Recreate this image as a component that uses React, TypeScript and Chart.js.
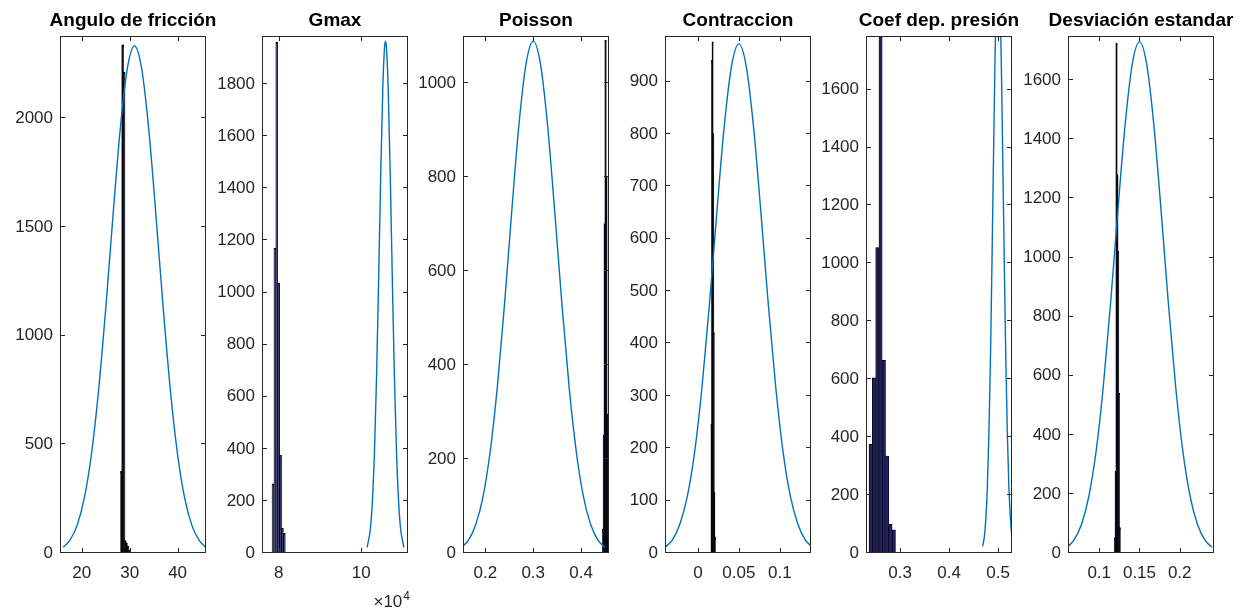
import React, { useEffect, useRef } from "react";
import { Chart, registerables } from "chart.js";

Chart.register(...registerables);

// ---------- Panel 1: Angulo de fricción ----------
const fricTitle = "Angulo de fricción";
const fricBins = [28.3, 28.55, 28.8, 29.05, 29.3, 29.55, 29.8];
const fricCounts = [375, 2335, 2210, 55, 45, 30, 12];
const fricCurveX = [16.1, 17.5, 19, 20.5, 22, 23.5, 25, 26.5, 28, 29.5, 31, 32.5, 34, 35.5, 37, 38.5, 40, 41.5, 43, 44.5, 45.9];
const fricCurveY = [26, 58, 126, 250, 452, 747, 1125, 1548, 1944, 2228, 2332, 2228, 1944, 1548, 1125, 747, 452, 250, 126, 58, 26];
const fricXTicks = [20, 30, 40];
const fricYTicks = [0, 500, 1000, 1500, 2000];
const fricXRange = [15.45, 45.93];
const fricYMax = 2378;

// ---------- Panel 2: Gmax ----------
const gmaxTitle = "Gmax";
const gmaxBins = [78630, 79090, 79540, 80000, 80460, 80910, 81370];
const gmaxCounts = [265, 1170, 1960, 1035, 375, 95, 75];
const gmaxCurveX = [101450, 102250, 102750, 103250, 103750, 104250, 104750, 105250, 105650, 105900, 106150, 106550, 107050, 107550, 108050, 108550, 109050, 109550, 110350];
const gmaxCurveY = [22, 95, 206, 398, 687, 1058, 1455, 1785, 1937, 1965, 1937, 1785, 1455, 1058, 687, 398, 206, 95, 22];
const gmaxXTicks = [80000, 100000];
const gmaxYTicks = [0, 200, 400, 600, 800, 1000, 1200, 1400, 1600, 1800];
const gmaxXRange = [75960, 111360];
const gmaxYMax = 1985;

// ---------- Panel 3: Poisson ----------
const poisTitle = "Poisson";
const poisBins = [0.4459, 0.4477, 0.4495, 0.4513, 0.4531, 0.4549, 0.4567];
const poisCounts = [50, 250, 700, 1090, 800, 295, 40];
const poisCurveX = [0.15, 0.165, 0.18, 0.195, 0.21, 0.225, 0.24, 0.255, 0.27, 0.285, 0.3, 0.315, 0.33, 0.345, 0.36, 0.375, 0.39, 0.405, 0.42, 0.435, 0.45];
const poisCurveY = [12, 28, 61, 120, 216, 354, 530, 726, 910, 1041, 1089, 1041, 910, 726, 530, 354, 216, 120, 61, 28, 12];
const poisXTicks = [0.2, 0.3, 0.4];
const poisYTicks = [0, 200, 400, 600, 800, 1000];
const poisXRange = [0.1531, 0.4585];
const poisYMax = 1100;

// ---------- Panel 4: Contraccion ----------
const contTitle = "Contraccion";
const contBins = [0.0166, 0.0173, 0.018, 0.0187, 0.0194, 0.0201, 0.0208];
const contCounts = [245, 940, 975, 800, 420, 115, 30];
const contCurveX = [-0.04, -0.031, -0.022, -0.013, -0.004, 0.005, 0.014, 0.023, 0.032, 0.041, 0.05, 0.059, 0.068, 0.077, 0.086, 0.095, 0.104, 0.113, 0.122, 0.131, 0.14];
const contCurveY = [11, 25, 55, 107, 192, 316, 473, 648, 812, 929, 972, 929, 812, 648, 473, 316, 192, 107, 55, 25, 11];
const contXTicks = [0, 0.05, 0.1];
const contYTicks = [0, 100, 200, 300, 400, 500, 600, 700, 800, 900];
const contXRange = [-0.0401, 0.138];
const contYMax = 987;

// ---------- Panel 5: Coef dep. presión ----------
const coefTitle = "Coef dep. presión";
const coefBins = [0.24, 0.2467, 0.2535, 0.2602, 0.267, 0.2738, 0.2805, 0.2873];
const coefCounts = [375, 605, 1055, 2050, 665, 335, 100, 80];
const coefCurveX = [0.4685, 0.4717, 0.4748, 0.478, 0.4811, 0.4843, 0.4874, 0.4906, 0.4937, 0.4969, 0.5, 0.5031, 0.5063, 0.5094, 0.5126, 0.5157, 0.5189, 0.522, 0.5252, 0.5283, 0.5315];
const coefCurveY = [23, 54, 115, 226, 406, 666, 998, 1367, 1712, 1960, 2050, 1960, 1712, 1367, 998, 666, 406, 226, 115, 54, 23];
const coefXTicks = [0.3, 0.4, 0.5];
const coefYTicks = [0, 200, 400, 600, 800, 1000, 1200, 1400, 1600];
const coefXRange = [0.2305, 0.5283];
const coefYMax = 1785;

// ---------- Panel 6: Desviación estandar ----------
const desvTitle = "Desviación estandar";
const desvBins = [0.1195, 0.1205, 0.1215, 0.1225, 0.1235, 0.1245, 0.1255];
const desvCounts = [50, 275, 1725, 1280, 1020, 540, 85];
const desvCurveX = [0.06, 0.069, 0.078, 0.087, 0.096, 0.105, 0.114, 0.123, 0.132, 0.141, 0.15, 0.159, 0.168, 0.177, 0.186, 0.195, 0.204, 0.213, 0.222, 0.231, 0.24];
const desvCurveY = [19, 45, 97, 191, 342, 562, 842, 1154, 1445, 1654, 1730, 1654, 1445, 1154, 842, 562, 342, 191, 97, 45, 19];
const desvXTicks = [0.1, 0.15, 0.2];
const desvYTicks = [0, 200, 400, 600, 800, 1000, 1200, 1400, 1600];
const desvXRange = [0.0612, 0.2426];
const desvYMax = 1750;

type PanelSpec = {
  title: string;
  bins: number[];
  counts: number[];
  curveX: number[];
  curveY: number[];
  xTicks: number[];
  yTicks: number[];
  xRange: number[];
  yMax: number;
  xScaleFactor?: number;
  barEdge: number;
  inflate: number;
  barFill: string;
};

const NAVY = "#22215c";
const DARK = "#0a0a14";

const PANELS: PanelSpec[] = [
  { title: fricTitle, bins: fricBins, counts: fricCounts, curveX: fricCurveX, curveY: fricCurveY, xTicks: fricXTicks, yTicks: fricYTicks, xRange: fricXRange, yMax: fricYMax, barEdge: 1.2, inflate: 0.8, barFill: DARK },
  { title: gmaxTitle, bins: gmaxBins, counts: gmaxCounts, curveX: gmaxCurveX, curveY: gmaxCurveY, xTicks: gmaxXTicks, yTicks: gmaxYTicks, xRange: gmaxXRange, yMax: gmaxYMax, xScaleFactor: 10000, barEdge: 0.9, inflate: 0.4, barFill: NAVY },
  { title: poisTitle, bins: poisBins, counts: poisCounts, curveX: poisCurveX, curveY: poisCurveY, xTicks: poisXTicks, yTicks: poisYTicks, xRange: poisXRange, yMax: poisYMax, barEdge: 1.2, inflate: 0.7, barFill: DARK },
  { title: contTitle, bins: contBins, counts: contCounts, curveX: contCurveX, curveY: contCurveY, xTicks: contXTicks, yTicks: contYTicks, xRange: contXRange, yMax: contYMax, barEdge: 1.2, inflate: 0.7, barFill: DARK },
  { title: coefTitle, bins: coefBins, counts: coefCounts, curveX: coefCurveX, curveY: coefCurveY, xTicks: coefXTicks, yTicks: coefYTicks, xRange: coefXRange, yMax: coefYMax, barEdge: 0.7, inflate: 0.3, barFill: NAVY },
  { title: desvTitle, bins: desvBins, counts: desvCounts, curveX: desvCurveX, curveY: desvCurveY, xTicks: desvXTicks, yTicks: desvYTicks, xRange: desvXRange, yMax: desvYMax, barEdge: 1.2, inflate: 0.7, barFill: DARK },
];

// layout (pixels)
const PANEL_LEFTS = [60, 262, 463, 665, 866, 1068];
const AXES_W = 146;
const Y_AREA = 52;
const RIGHT_PAD = 20;
const TOP = 36;
const X_AREA = 58;
const H = 611;
const FONT = '"Liberation Sans", Arial, Helvetica, sans-serif';
const AXIS_COLOR = "#262626";

function framePlugin(spec: PanelSpec) {
  return {
    id: "matlabFrame",
    afterDatasetsDraw(chart: any) {
      const { ctx, chartArea } = chart;
      const { left, right, top, bottom } = chartArea;
      const xs = chart.scales.x;
      const ys = chart.scales.y;
      ctx.save();
      ctx.strokeStyle = AXIS_COLOR;
      ctx.lineWidth = 1;
      ctx.strokeRect(left + 0.5, top + 0.5, right - left - 1, bottom - top - 1);
      const tl = 5;
      ctx.beginPath();
      spec.xTicks.forEach((v) => {
        const p = Math.round(xs.getPixelForValue(v)) + 0.5;
        ctx.moveTo(p, bottom);
        ctx.lineTo(p, bottom - tl);
        ctx.moveTo(p, top);
        ctx.lineTo(p, top + tl);
      });
      spec.yTicks.forEach((v) => {
        const p = Math.round(ys.getPixelForValue(v)) - 0.5;
        ctx.moveTo(left, p);
        ctx.lineTo(left + tl, p);
        ctx.moveTo(right, p);
        ctx.lineTo(right - tl, p);
      });
      ctx.stroke();
      // title
      ctx.fillStyle = "#000";
      ctx.font = `bold 19px ${FONT}`;
      ctx.textAlign = "center";
      ctx.textBaseline = "middle";
      ctx.fillText(spec.title, (left + right) / 2, 21);
      // exponent label
      if (spec.xScaleFactor) {
        ctx.fillStyle = AXIS_COLOR;
        ctx.textBaseline = "alphabetic";
        ctx.textAlign = "right";
        ctx.font = `12px ${FONT}`;
        const supW = ctx.measureText("4").width;
        ctx.fillText("4", right + 2, 600);
        ctx.font = `17px ${FONT}`;
        ctx.fillText("\u00d710", right + 2 - supW - 1, 607);
      }
      ctx.restore();
    },
  };
}

function Panel({ spec, left }: { spec: PanelSpec; left: number }) {
  const ref = useRef<HTMLCanvasElement | null>(null);
  useEffect(() => {
    if (!ref.current) return;
    const fmt = (v: number) => {
      const val = spec.xScaleFactor ? v / spec.xScaleFactor : v;
      return String(Math.round(val * 1e6) / 1e6);
    };
    const chart = new Chart(ref.current, {
      type: "bar",
      data: {
        datasets: [
          {
            type: "line",
            data: spec.curveX.map((x, i) => ({ x, y: spec.curveY[i] })),
            borderColor: "#0072BD",
            borderWidth: 1.4,
            pointRadius: 0,
            fill: false,
            cubicInterpolationMode: "monotone",
            clip: 0,
            order: 0,
          } as any,
          {
            type: "bar",
            data: spec.bins.map((x, i) => ({ x, y: spec.counts[i] })),
            backgroundColor: spec.barFill,
            borderColor: "#000000",
            borderWidth: spec.barEdge,
            borderSkipped: "start",
            inflateAmount: spec.inflate,
            barPercentage: 1,
            categoryPercentage: 1,
            clip: 0,
            order: 1,
          } as any,
        ],
      },
      options: {
        responsive: false,
        animation: false,
        events: [],
        layout: { padding: { left: 0, top: TOP, right: RIGHT_PAD, bottom: 0 } },
        plugins: {
          legend: { display: false },
          tooltip: { enabled: false },
          title: { display: false },
        },
        scales: {
          x: {
            type: "linear",
            min: spec.xRange[0],
            max: spec.xRange[1],
            offset: false,
            bounds: "data",
            grid: { display: false, drawTicks: false },
            border: { display: false },
            afterBuildTicks: (scale: any) => {
              scale.ticks = spec.xTicks.map((v) => ({ value: v }));
            },
            afterFit: (scale: any) => {
              scale.height = X_AREA;
            },
            ticks: {
              autoSkip: false,
              maxRotation: 0,
              minRotation: 0,
              padding: 10,
              color: AXIS_COLOR,
              font: { family: FONT, size: 17 },
              callback: (v: any) => fmt(Number(v)),
            },
          },
          y: {
            type: "linear",
            min: 0,
            max: spec.yMax,
            bounds: "data",
            grid: { display: false, drawTicks: false },
            border: { display: false },
            afterBuildTicks: (scale: any) => {
              scale.ticks = spec.yTicks.map((v) => ({ value: v }));
            },
            afterFit: (scale: any) => {
              scale.width = Y_AREA;
            },
            ticks: {
              autoSkip: false,
              padding: 7,
              color: AXIS_COLOR,
              font: { family: FONT, size: 17 },
              callback: (v: any) => String(v),
            },
          },
        },
      } as any,
      plugins: [framePlugin(spec)],
    });
    return () => chart.destroy();
  }, [spec]);
  const w = Y_AREA + AXES_W + RIGHT_PAD;
  return (
    <canvas
      ref={ref}
      width={w}
      height={H}
      style={{ position: "absolute", left: left - Y_AREA, top: 0, width: w, height: H }}
    />
  );
}

export default function App() {
  return (
    <div style={{ position: "absolute", left: 0, top: 0, width: 1242, height: 611, background: "#fff", overflow: "hidden" }}>
      {PANELS.map((p, i) => (
        <Panel key={i} spec={p} left={PANEL_LEFTS[i]} />
      ))}
    </div>
  );
}
